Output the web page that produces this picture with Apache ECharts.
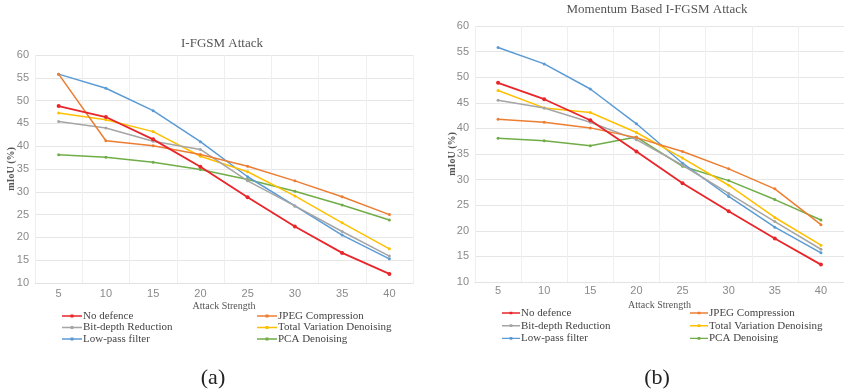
<!DOCTYPE html>
<html><head><meta charset="utf-8">
<script src="https://cdn.jsdelivr.net/npm/echarts@6/dist/echarts.min.js"></script>
<style>html,body{margin:0;padding:0;background:#fff}#c{width:844px;height:392px}</style>
</head><body><div id="c"></div>
<script>
const categories = ['5','10','15','20','25','30','35','40'];
const seriesNames = ['No defence','JPEG Compression','Bit-depth Reduction','Total Variation Denoising','Low-pass filter','PCA Denoising'];
const colors = ['#E8262A','#ED7D31','#A5A5A5','#FFC000','#5B9BD5','#70AD47'];

// (a) I-FGSM Attack
const a_noDefence = [48.8, 46.4, 41.5, 35.5, 28.8, 22.4, 16.6, 12.0];
const a_jpeg      = [55.8, 41.2, 40.1, 38.2, 35.6, 32.4, 28.9, 25.0];
const a_bitDepth  = [45.4, 44.0, 41.1, 39.3, 32.4, 26.9, 21.3, 15.9];
const a_tvd       = [47.3, 45.8, 43.2, 37.8, 34.4, 29.1, 23.2, 17.5];
const a_lowPass   = [55.8, 52.7, 47.8, 41.0, 33.3, 26.9, 20.5, 15.3];
const a_pca       = [38.1, 37.6, 36.5, 34.9, 32.7, 30.1, 27.1, 23.8];

// (b) Momentum Based I-FGSM Attack
const b_noDefence = [48.9, 45.7, 41.6, 35.5, 29.3, 23.8, 18.5, 13.4];
const b_jpeg      = [41.8, 41.2, 40.1, 38.2, 35.5, 32.1, 28.2, 21.2];
const b_bitDepth  = [45.5, 44.0, 41.2, 37.8, 32.8, 27.3, 21.8, 16.4];
const b_tvd       = [47.4, 44.0, 43.1, 39.2, 34.2, 28.9, 22.6, 17.2];
const b_lowPass   = [55.8, 52.6, 47.7, 40.9, 33.2, 26.7, 20.7, 15.7];
const b_pca       = [38.1, 37.6, 36.6, 38.3, 32.6, 29.8, 26.1, 22.1];

const yTicks = {min: 10, max: 60, interval: 5};
const titles = ['I-FGSM Attack', 'Momentum Based I-FGSM Attack'];
const captions = ['(a)', '(b)'];

const aData = [a_noDefence, a_jpeg, a_bitDepth, a_tvd, a_lowPass, a_pca];
const bData = [b_noDefence, b_jpeg, b_bitDepth, b_tvd, b_lowPass, b_pca];

const serif = '"Liberation Serif", "DejaVu Serif", serif';
const sans = '"Liberation Sans", Arial, sans-serif';

function xAxis(gi, margin, gap) {
  return {
    type: 'category', gridIndex: gi, data: categories, boundaryGap: true,
    name: 'Attack Strength', nameLocation: 'middle', nameGap: gap, nameMoveOverlap: false,
    nameTextStyle: {fontFamily: serif, fontSize: 10, color: '#555'},
    axisLine: {show: true, lineStyle: {color: '#e3e3e3'}},
    axisTick: {show: false},
    axisLabel: {color: '#8a8a8a', fontFamily: sans, fontSize: 11, margin: margin},
    splitLine: {show: true, lineStyle: {color: '#efefef'}}
  };
}
function yAxis(gi, gap) {
  return {
    type: 'value', gridIndex: gi, min: yTicks.min, max: yTicks.max, interval: yTicks.interval,
    name: 'mIoU (%)', nameLocation: 'middle', nameRotate: 90, nameGap: gap, nameMoveOverlap: false,
    nameTextStyle: {fontFamily: serif, fontSize: 10, fontWeight: 'bold', color: '#555'},
    axisLine: {show: false}, axisTick: {show: false},
    axisLabel: {color: '#8a8a8a', fontFamily: sans, fontSize: 11, margin: 6},
    splitLine: {show: true, lineStyle: {color: '#e6e6e6'}}
  };
}

const series = [];
[aData, bData].forEach((set, gi) => {
  set.forEach((vals, i) => {
    series.push({
      name: seriesNames[i], type: 'line', xAxisIndex: gi, yAxisIndex: gi,
      data: vals, symbol: 'circle', symbolSize: i === 0 ? 4 : 3,
      lineStyle: {width: i === 0 ? 1.8 : 1.5, color: colors[i]},
      itemStyle: {color: colors[i]}, z: 10 - i
    });
  });
});

const legendIcon = 'path://M0,0.75 L20,0.75 L20,2.25 L0,2.25 Z M8.5,0 L11.5,0 L11.5,3 L8.5,3 Z';

function legend(left, top, names, gap, w) {
  return {
    left: left, top: top, orient: 'vertical', data: names, itemGap: gap,
    icon: legendIcon, itemWidth: w, itemHeight: 3, padding: 0,
    textStyle: {fontFamily: serif, fontSize: 11, lineHeight: 11, color: '#444', padding: [0,0,0,-4]},
    selectedMode: false
  };
}

const chart = echarts.init(document.getElementById('c'), null, {renderer: 'canvas'});
chart.setOption({
  color: colors,
  animation: false,
  title: [
    {text: titles[0], left: 217, top: 32, textAlign: 'center', textStyle: {fontFamily: serif, fontSize: 13, fontWeight: 'normal', color: '#555'}},
    {text: titles[1], left: 652, top: -2, textAlign: 'center', textStyle: {fontFamily: serif, fontSize: 13, fontWeight: 'normal', color: '#555'}},
    {text: captions[0], left: 208, top: 362, textAlign: 'center', textStyle: {fontFamily: serif, fontSize: 22, fontWeight: 'normal', color: '#222'}},
    {text: captions[1], left: 652, top: 362, textAlign: 'center', textStyle: {fontFamily: serif, fontSize: 22, fontWeight: 'normal', color: '#222'}}
  ],
  grid: [
    {left: 35, top: 55, width: 378, height: 228},
    {left: 475, top: 26, width: 369, height: 256}
  ],
  xAxis: [xAxis(0, 5, 18), xAxis(1, 3, 18)],
  yAxis: [yAxis(0, 18.5), yAxis(1, 17.5)],
  legend: [
    legend(62, 310.5, ['No defence','Bit-depth Reduction','Low-pass filter'], 0.5, 20),
    legend(257, 310.5, ['JPEG Compression','Total Variation Denoising','PCA Denoising'], 0.5, 20),
    legend(502, 307.5, ['No defence','Bit-depth Reduction','Low-pass filter'], 1.7, 18),
    legend(690, 307.5, ['JPEG Compression','Total Variation Denoising','PCA Denoising'], 1.7, 18)
  ],
  series: series
});
</script></body></html>
